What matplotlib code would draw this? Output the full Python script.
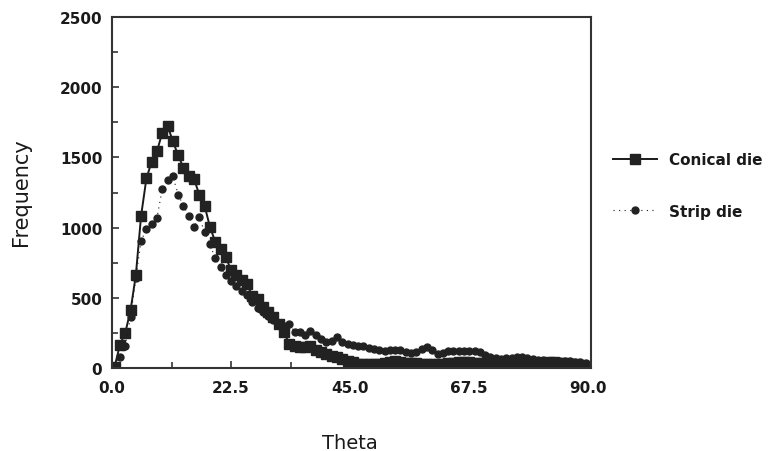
import numpy as np
import matplotlib.pyplot as plt

# bin centres (1 degree bins)
theta = np.arange(0.5, 90.0, 1.0)

conical = [10, 165, 250, 410, 660, 1085, 1350, 1470, 1545, 1675,
           1725, 1615, 1515, 1425, 1365, 1345, 1235, 1155, 1005, 900,
           850, 790, 695, 665, 630, 595, 515, 490, 432, 397,
           360, 313, 254, 170, 158, 147, 150, 158, 130, 115,
           100, 88, 76, 62, 52, 42, 30, 28, 27, 28,
           32, 38, 45, 50, 40, 38, 35, 33, 30, 30,
           28, 30, 32, 35, 38, 40, 42, 40, 38, 36,
           35, 38, 40, 42, 45, 40, 38, 35, 32, 30,
           35, 38, 40, 42, 38, 35, 30, 25, 20, 10]

strip = [16, 76, 160, 360, 640, 905, 990, 1025, 1070, 1275,
         1340, 1365, 1235, 1155, 1085, 1005, 1073, 966, 883, 780,
         720, 660, 620, 586, 551, 520, 470, 430, 400, 370,
         345, 320, 300, 313, 259, 254, 235, 266, 235, 207,
         187, 194, 219, 183, 171, 164, 160, 159, 140, 135,
         130, 123, 125, 130, 125, 115, 110, 112, 135, 147,
         130, 100, 110, 118, 123, 123, 120, 120, 118, 114,
         95, 78, 70, 64, 68, 72, 76, 78, 70, 62,
         58, 55, 52, 52, 50, 50, 48, 45, 43, 35]

fig = plt.figure(figsize=(7.7, 4.52), dpi=100)
ax = fig.add_axes([112/770, 1 - 369/452, (591 - 112)/770, (369 - 18)/452])

ax.plot(theta, conical, color='#1a1a1a', lw=1.4, marker='s', ms=6.5,
        mfc='#222222', mec='#222222', label='Conical die')
ax.plot(theta, strip, color='#1a1a1a', lw=0.8, ls=(0, (1, 4)), marker='o', ms=5,
        mfc='#222222', mec='#222222', label='Strip die')

ax.set_xlim(0, 90.5)
ax.set_ylim(0, 2500)
ax.set_xticks([0, 22.5, 45, 67.5, 90])
ax.set_xticklabels(['0.0', '22.5', '45.0', '67.5', '90.0'])
ax.set_xticks(np.arange(0, 91, 11.25), minor=True)
ax.set_yticks(np.arange(0, 2501, 500))
ax.set_yticks(np.arange(0, 2501, 250), minor=True)

ax.tick_params(which='both', direction='in', color='#333333', width=1.2)
ax.tick_params(which='major', length=5)
ax.tick_params(which='minor', length=4)
ax.tick_params(axis='x', pad=9)
ax.tick_params(axis='y', pad=7)
for lab in ax.get_xticklabels() + ax.get_yticklabels():
    lab.set_fontweight('bold')
    lab.set_fontsize(11)
    lab.set_color('#1a1a1a')

for s in ax.spines.values():
    s.set_linewidth(1.5)
    s.set_color('#333333')

ax.set_xlabel('Theta', fontsize=14, color='#1a1a1a')
ax.set_ylabel('Frequency', fontsize=15, color='#1a1a1a')
ax.xaxis.set_label_coords(0.497, -0.185)
ax.yaxis.set_label_coords(-0.17, 0.504)

leg = ax.legend(loc='center left', bbox_to_anchor=(1.045, 0.52), frameon=False,
                borderaxespad=0, borderpad=0, handlelength=2.9, handletextpad=0.8,
                labelspacing=2.4, prop={'weight': 'bold', 'size': 11})
for t in leg.get_texts():
    t.set_color('#1a1a1a')

fig.savefig('out.png', dpi=100, facecolor='white')
